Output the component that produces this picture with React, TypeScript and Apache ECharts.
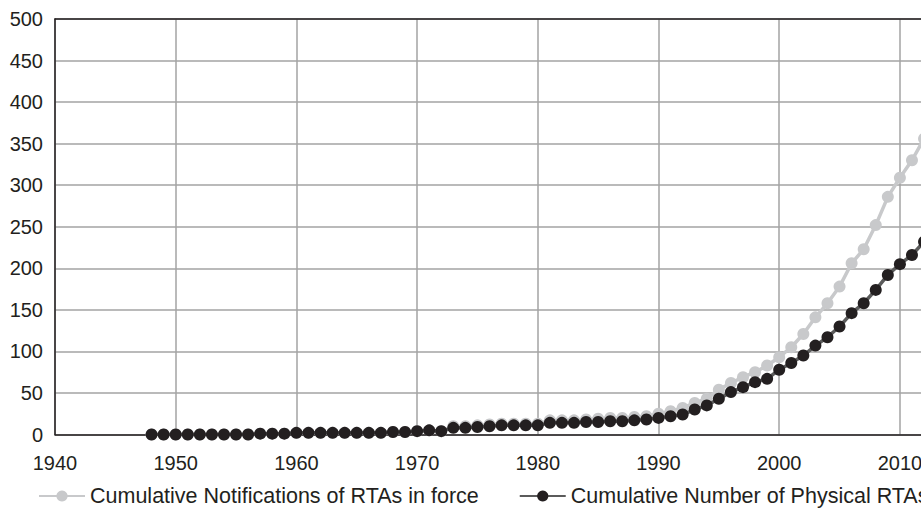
import React, { useEffect, useRef } from "react";
import * as echarts from "echarts";

const years: number[] = [];
for (let y = 1948; y <= 2012; y++) years.push(y);

const notifications = [
  0, 0, 0, 0, 0, 0, 0, 0, 0, 1, 1, 1, // 1948-1959
  2, 2, 2, 2, 2, 2, 2, 2, 3, 3, // 1960-1969
  4, 5, 4, 10, 10, 11, 12, 13, 13, 13, // 1970-1979
  13, 17, 17, 17, 18, 19, 20, 20, 21, 22, // 1980-1989
  25, 28, 32, 38, 43, 54, 62, 69, 75, 83, // 1990-1999
  93, 105, 121, 141, 158, 178, 206, 223, 252, 286, // 2000-2009
  309, 330, 356, // 2010-2012
];

const physical = [
  0, 0, 0, 0, 0, 0, 0, 0, 0, 1, 1, 1, // 1948-1959
  2, 2, 2, 2, 2, 2, 2, 2, 3, 3, // 1960-1969
  4, 5, 4, 8, 8, 9, 10, 11, 11, 11, // 1970-1979
  11, 14, 14, 14, 15, 15, 16, 16, 17, 18, // 1980-1989
  20, 22, 24, 30, 35, 43, 51, 57, 63, 67, // 1990-1999
  78, 86, 95, 107, 117, 130, 146, 158, 174, 192, // 2000-2009
  205, 216, 232, // 2010-2012
];

const seriesNames = [
  "Cumulative Notifications of RTAs in force",
  "Cumulative Number of Physical RTAs in force",
];

export default function App() {
  const ref = useRef<HTMLDivElement>(null);
  useEffect(() => {
    document.body.style.margin = "0";
    document.body.style.overflow = "hidden";
    const chart = echarts.init(ref.current!, null, { renderer: "svg" });
    const font = "'Liberation Sans', Arial, sans-serif";
    const txt = "#231f20";
    chart.setOption({
      animation: false,
      grid: { left: 55, top: 19, width: 965.6, height: 415.5 },
      xAxis: [
        {
          type: "value",
          min: 1940,
          max: 2020,
          interval: 10,
          axisLine: { show: true, lineStyle: { color: "#231f20", width: 1.5 } },
          axisTick: { show: false },
          axisLabel: {
            color: txt,
            fontSize: 20,
            fontFamily: font,
            margin: 18,
            formatter: (v: number) => String(v),
          },
          splitLine: { show: true, lineStyle: { color: "#a3a3a3", width: 1.5 } },
        },
        {
          type: "value",
          position: "top",
          min: 1940,
          max: 2020,
          interval: 10,
          z: 5,
          axisLine: { show: true, lineStyle: { color: "#231f20", width: 1.5 } },
          axisTick: { show: false },
          axisLabel: { show: false },
          splitLine: { show: false },
        },
      ],
      yAxis: {
        type: "value",
        min: 0,
        max: 500,
        interval: 50,
        axisLine: { show: true, lineStyle: { color: "#231f20", width: 1.5 } },
        axisTick: { show: false },
        axisLabel: { color: txt, fontSize: 20, fontFamily: font, margin: 12 },
        splitLine: { show: true, lineStyle: { color: "#a3a3a3", width: 1.5 } },
      },
      legend: {
        left: 38,
        top: 485,
        padding: 0,
        itemWidth: 46,
        itemHeight: 14,
        itemGap: 40,
        textStyle: { color: txt, fontSize: 21.5, fontFamily: font },
        data: seriesNames,
      },
      series: [
        {
          name: seriesNames[0],
          type: "line",
          data: years.map((y, i) => [y, notifications[i]]),
          symbol: "circle",
          symbolSize: 12,
          lineStyle: { color: "#c8c9cb", width: 3.5 },
          itemStyle: { color: "#c8c9cb" },
          z: 3,
        },
        {
          name: seriesNames[1],
          type: "line",
          data: years.map((y, i) => [y, physical[i]]),
          symbol: "circle",
          symbolSize: 12,
          lineStyle: { color: "#5b5b5b", width: 3.5 },
          itemStyle: { color: "#231f20" },
          z: 4,
        },
      ],
    });
    return () => chart.dispose();
  }, []);
  return <div ref={ref} style={{ width: 1100, height: 515 }} />;
}
